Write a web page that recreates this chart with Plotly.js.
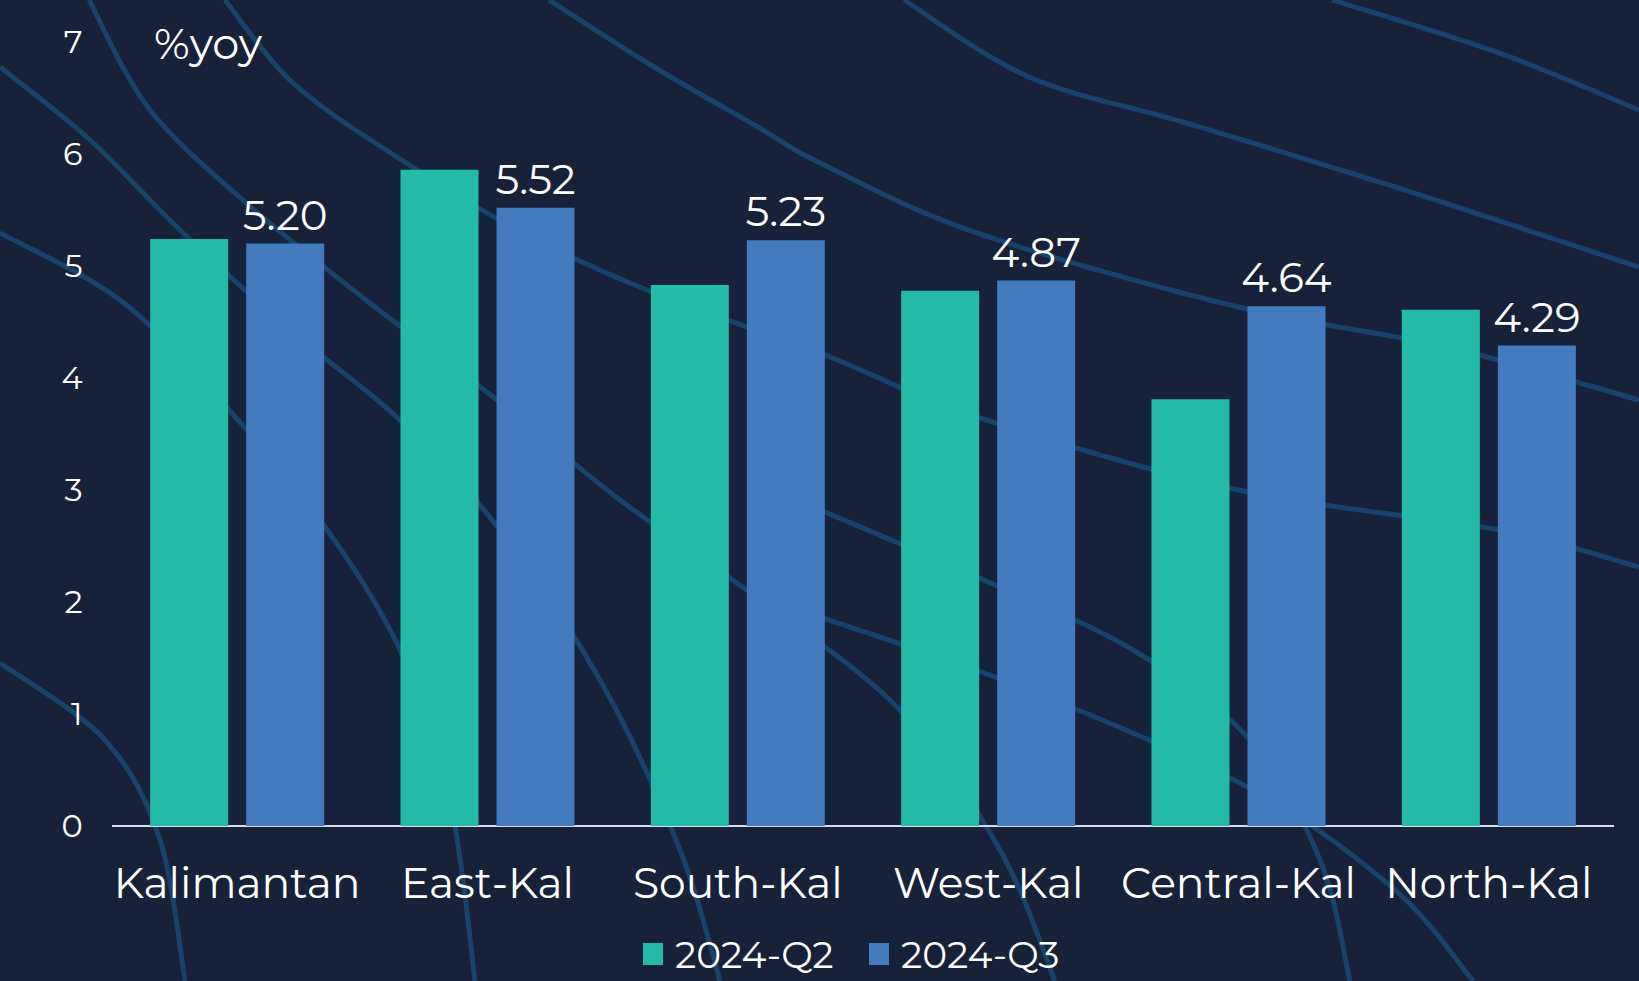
<!DOCTYPE html>
<html>
<head>
<meta charset="utf-8">
<script src="https://cdn.plot.ly/plotly-3.0.1.min.js"></script>
<style>
html,body{margin:0;padding:0;background:#172139;}
#chart{width:1639px;height:981px;}
</style>
</head>
<body>
<div id="chart"></div>
<script>
const categories = ["Kalimantan", "East-Kal", "South-Kal", "West-Kal", "Central-Kal", "North-Kal"];
const q2Values = [5.24, 5.86, 4.83, 4.78, 3.81, 4.61];
const q3Values = [5.20, 5.52, 5.23, 4.87, 4.64, 4.29];
const seriesNames = ["2024-Q2", "2024-Q3"];
const seriesColors = ["#23BBA8", "#437BBE"];
const yTicks = [0, 1, 2, 3, 4, 5, 6, 7];

const W = 1639, H = 981;
const M = {l: 112, r: 25, t: 42, b: 155};
const pw = W - M.l - M.r, ph = H - M.t - M.b;
function px(x) { return (x - M.l) / pw; }
function py(y) { return (H - M.b - y) / ph; }
function fmt(p) { return px(p[0]).toFixed(4) + "," + py(p[1]).toFixed(4); }
function curve(pts) {
  let s = "M " + fmt(pts[0]);
  for (let i = 0; i < pts.length - 1; i++) {
    const p0 = pts[Math.max(i - 1, 0)], p1 = pts[i], p2 = pts[i + 1], p3 = pts[Math.min(i + 2, pts.length - 1)];
    const c1 = [p1[0] + (p2[0] - p0[0]) / 6, p1[1] + (p2[1] - p0[1]) / 6];
    const c2 = [p2[0] - (p3[0] - p1[0]) / 6, p2[1] - (p3[1] - p1[1]) / 6];
    s += " C " + fmt(c1) + " " + fmt(c2) + " " + fmt(p2);
  }
  return s;
}
// decorative background curves (pixel coords of the page)
const bgCurves = [
  [[225,0],[293,83],[397,157],[523,233],[654,293],[820,353],[977,417],[1238,490],[1499,530],[1639,567]],
  [[549,0],[654,67],[758,127],[820,163],[977,233],[1238,307],[1447,347],[1639,400]],
  [[904,0],[1029,77],[1186,123],[1395,187],[1639,267]],
  [[1332,0],[1499,53],[1639,110]],
  [[89,0],[150,110],[251,207],[366,300],[497,400],[620,500],[760,600],[900,710],[1000,850],[1055,981]],
  [[0,67],[90,140],[180,230],[290,330],[400,420],[500,530],[600,680],[680,850],[720,981]],
  [[0,233],[120,300],[220,400],[320,520],[400,650],[450,800],[475,981]],
  [[0,663],[105,740],[160,840],[185,981]],
  [[820,510],[977,577],[1133,650],[1250,740],[1320,860],[1350,981]],
  [[820,617],[1029,690],[1253,790],[1395,890],[1473,981]]
];
const shapes = bgCurves.map(c => ({
  type: "path", xref: "paper", yref: "paper", layer: "below",
  path: curve(c), line: {color: "#17426a", width: 5}
}));

const fontFam = "Montserrat, 'Open Sans', 'DejaVu Sans', sans-serif";

// custom legend (larger square swatches as in the reference)
const legendX = [643, 869];
const legendY = 954;
const annotations = [{
  text: "%yoy", xref: "paper", yref: "paper", x: px(152), y: py(44),
  xanchor: "left", yanchor: "middle", showarrow: false,
  font: {size: 43, color: "#ffffff", family: fontFam}
}];
seriesNames.forEach((n, i) => {
  shapes.push({
    type: "rect", xref: "paper", yref: "paper", layer: "above",
    x0: px(legendX[i]), x1: px(legendX[i] + 20), y0: py(legendY + 11), y1: py(legendY - 11),
    fillcolor: seriesColors[i], line: {width: 0}
  });
  annotations.push({
    text: n, xref: "paper", yref: "paper", x: px(legendX[i] + 30), y: py(legendY),
    xanchor: "left", yanchor: "middle", showarrow: false,
    font: {size: 37.5, color: "#ffffff", family: fontFam}
  });
});

const data = [
  {
    type: "bar", name: seriesNames[0], x: categories, y: q2Values,
    marker: {color: seriesColors[0]}, hoverinfo: "skip"
  },
  {
    type: "bar", name: seriesNames[1], x: categories, y: q3Values,
    marker: {color: seriesColors[1]},
    texttemplate: "%{y:.2f}", textposition: "outside", cliponaxis: false,
    constraintext: "none",
    textfont: {color: "#ffffff", size: 42, family: fontFam}, hoverinfo: "skip"
  }
];

const layout = {
  width: W, height: H,
  margin: M,
  paper_bgcolor: "#172139",
  plot_bgcolor: "rgba(0,0,0,0)",
  font: {family: fontFam, color: "#ffffff"},
  barmode: "group",
  bargap: 0.233,
  bargroupgap: 0.1875,
  showlegend: false,
  xaxis: {
    tickfont: {size: 42.5, color: "#ffffff", family: fontFam},
    showgrid: false, zeroline: false, showline: false, automargin: false,
    ticks: "outside", ticklen: 20, tickcolor: "rgba(0,0,0,0)"
  },
  yaxis: {
    range: [0, 7], tickvals: yTicks, ticktext: yTicks.map(String), automargin: false,
    tickfont: {size: 32, color: "#ffffff", family: fontFam},
    showgrid: false, zeroline: true, zerolinecolor: "#d3ddeb", zerolinewidth: 2.5,
    ticks: "outside", ticklen: 22, tickcolor: "rgba(0,0,0,0)"
  },
  shapes: shapes,
  annotations: annotations
};

Plotly.newPlot("chart", data, layout, {displayModeBar: false, staticPlot: true});
</script>
</body>
</html>
